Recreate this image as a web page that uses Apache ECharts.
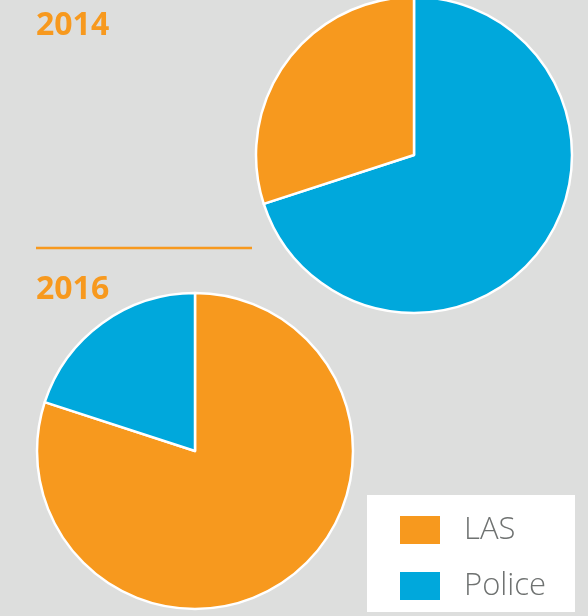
<!DOCTYPE html>
<html>
<head>
<meta charset="utf-8">
<style>
  html, body { margin: 0; padding: 0; background: #dddedd; }
  #chart { width: 588px; height: 616px; }
</style>
<script src="https://cdn.jsdelivr.net/npm/echarts@6/dist/echarts.min.js"></script>
</head>
<body>
<div id="chart"></div>
<script>
var categories = ['LAS', 'Police'];
var years = ['2014', '2016'];
// shares in % (slice order = drawing order, clockwise from 12 o'clock)
var pie2014 = [
    { name: 'Police', value: 70 },
    { name: 'LAS', value: 30 }
];
var pie2016 = [
    { name: 'LAS', value: 80 },
    { name: 'Police', value: 20 }
];

var orange = '#f7991e';
var blue = '#00a8dc';
var colorOf = { 'LAS': orange, 'Police': blue };

function withColors(list) {
    return list.map(function (d) {
        return { name: d.name, value: d.value, itemStyle: { color: colorOf[d.name] } };
    });
}

var myChart = echarts.init(document.getElementById('chart'));

var titleStyle = {
    color: orange,
    fontSize: 32,
    fontWeight: 'bold',
    fontFamily: 'Open Sans'
};

var pieBase = {
    type: 'pie',
    radius: 158,
    startAngle: 90,
    clockwise: true,
    label: { show: false },
    labelLine: { show: false },
    emphasis: { disabled: true },
    itemStyle: { borderColor: '#ffffff', borderWidth: 2.5 }
};

var option = {
    backgroundColor: '#dddedd',
    animation: false,
    title: [{
        text: years[0],
        left: 31,
        top: 5,
        textStyle: titleStyle
    }, {
        text: years[1],
        left: 31,
        top: 269,
        textStyle: titleStyle
    }],
    legend: {
        data: categories,
        orient: 'vertical',
        left: 393,
        top: 509,
        itemWidth: 42,
        itemHeight: 30,
        itemGap: 24,
        icon: 'rect',
        selectedMode: false,
        textStyle: {
            color: '#6f7271',
            fontSize: 31,
            fontWeight: 300,
            fontFamily: 'Open Sans',
            lineHeight: 30,
            padding: [0, 0, 0, 18]
        }
    },
    graphic: [{
        type: 'rect',
        z: -1,
        shape: { x: 367, y: 495, width: 208, height: 117 },
        style: { fill: '#ffffff' }
    }, {
        type: 'line',
        shape: { x1: 36, y1: 248, x2: 252, y2: 248 },
        style: { stroke: orange, lineWidth: 2.5 }
    }],
    series: [
        Object.assign({}, pieBase, {
            name: years[0],
            center: [414, 155],
            data: withColors(pie2014)
        }),
        Object.assign({}, pieBase, {
            name: years[1],
            center: [195, 451],
            data: withColors(pie2016)
        })
    ]
};

myChart.setOption(option);
</script>
</body>
</html>
